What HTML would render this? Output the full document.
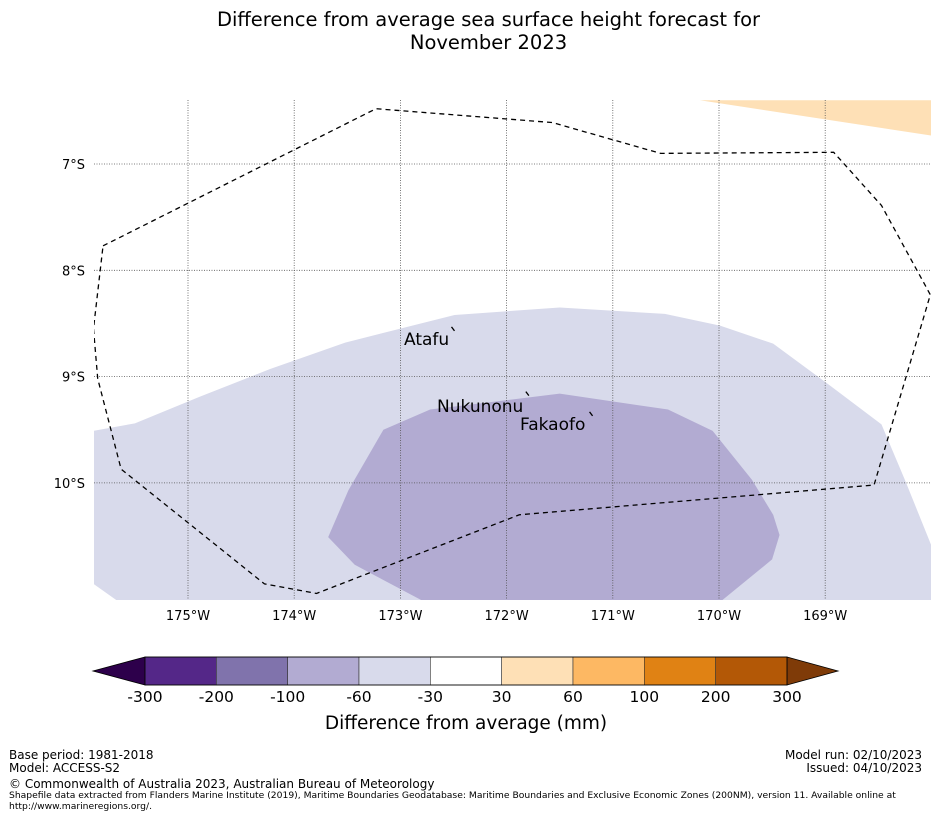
<!DOCTYPE html>
<html><head><meta charset="utf-8"><style>
body{margin:0;background:#fff;font-family:"DejaVu Sans","Liberation Sans",sans-serif;}
#c{position:relative;width:931px;height:816px;overflow:hidden;}
.t{position:absolute;white-space:nowrap;color:#000;}
</style></head><body>
<div id="c">
<div class="t" style="left:0;width:977px;top:8px;text-align:center;font-size:19.5px;line-height:23px">Difference from average sea surface height forecast for<br>November 2023</div>
<svg id="s" width="931" height="816" style="position:absolute;left:0;top:0"></svg>
<div class="t" style="left:9px;top:748px;font-size:12px">Base period: 1981-2018</div>
<div class="t" style="left:9px;top:761px;font-size:12px">Model: ACCESS-S2</div>
<div class="t" style="right:9px;top:748px;font-size:12px;text-align:right">Model run: 02/10/2023</div>
<div class="t" style="right:9px;top:761px;font-size:12px;text-align:right">Issued: 04/10/2023</div>
<div class="t" style="left:9px;top:777px;font-size:12px">© Commonwealth of Australia 2023, Australian Bureau of Meteorology</div>
<div class="t" style="left:9px;top:790px;font-size:9.2px;line-height:11px">Shapefile data extracted from Flanders Marine Institute (2019), Maritime Boundaries Geodatabase: Maritime Boundaries and Exclusive Economic Zones (200NM), version 11. Available online at<br>http://www.marineregions.org/.</div>
</div>
<script>
const lonTicks=[-175,-174,-173,-172,-171,-170,-169];
const latTicks=[-7,-8,-9,-10];
const bounds=[-60,-30,30,60,100,200,300];
const cbTicks=[-300,-200,-100,-60,-30,30,60,100,200,300];
const cbColors=['#542788','#8073ac','#b2abd2','#d8daeb','#ffffff','#fee0b6','#fdb863','#e08214','#b35806'];
const lightLon=[-175.89,-175.5,-174.89,-174.23,-173.52,-172.49,-171.5,-170.51,-169.99,-169.49,-168.96,-168.47,-168.25,-168.0,-168.0,-175.65,-175.89];
const lightLat=[-9.51,-9.44,-9.19,-8.93,-8.68,-8.42,-8.35,-8.41,-8.52,-8.69,-9.08,-9.45,-9.97,-10.59,-11.12,-11.12,-10.95];
const darkLon=[-173.16,-172.72,-171.5,-170.48,-170.06,-169.69,-169.49,-169.43,-169.5,-169.99,-172.77,-173.43,-173.68,-173.49];
const darkLat=[-9.5,-9.31,-9.16,-9.31,-9.51,-9.97,-10.3,-10.49,-10.72,-11.12,-11.12,-10.77,-10.51,-10.07];
const posLon=[-170.18,-167.82,-167.82];
const posLat=[-6.4,-6.4,-6.76];
const eezLon=[-175.8,-173.23,-171.57,-170.55,-168.92,-168.47,-168.01,-168.54,-171.88,-173.79,-174.28,-175.63,-175.85,-175.89,-175.8];
const eezLat=[-7.77,-6.48,-6.61,-6.9,-6.89,-7.39,-8.23,-10.02,-10.3,-11.04,-10.95,-9.87,-9.02,-8.55,-7.77];
const islands=[{name:'Atafu',lon:-172.5,lat:-8.56,lx:404,ly:345},{name:'Nukunonu',lon:-171.8,lat:-9.17,lx:437,ly:412},{name:'Fakaofo',lon:-171.2,lat:-9.36,lx:520,ly:430}];
const X0=94,X1=931,Y0=100,Y1=600;
const xS=lon=>188+(lon+175)*106.2;
const yS=lat=>164+(-lat-7)*106.3;
const cS=i=>145+i*(787-145)/9;
const s=document.getElementById('s');const NS='http://www.w3.org/2000/svg';
function mk(t,a,p){const e=document.createElementNS(NS,t);for(const k in a)e.setAttribute(k,a[k]);(p||s).appendChild(e);return e;}
const defs=mk('defs',{});const cp=mk('clipPath',{id:'cp'},defs);mk('rect',{x:X0,y:Y0,width:X1-X0,height:Y1-Y0},cp);
const g=mk('g',{'clip-path':'url(#cp)'});


function poly(lo,la,fill,name){const pts=lo.map((v,i)=>xS(v)+','+yS(la[i])).join(' ');const p=mk('polygon',{points:pts,fill:fill},g);

}
poly(lightLon,lightLat,cbColors[3],'contour-minus-30-to-60');
poly(darkLon,darkLat,cbColors[2],'contour-minus-60-to-100');
poly(posLon,posLat,cbColors[5],'contour-plus-30-to-60');
lonTicks.forEach(v=>{const l=mk('line',{x1:xS(v),x2:xS(v),y1:Y0,y2:Y1,stroke:'#555','stroke-width':0.8,'stroke-dasharray':'1,1.5'},g);


const t=mk('text',{x:xS(v),y:620,'text-anchor':'middle','font-size':13});t.textContent=Math.abs(v)+'°W';

});
latTicks.forEach(v=>{const l=mk('line',{x1:X0,x2:X1,y1:yS(v),y2:yS(v),stroke:'#555','stroke-width':0.8,'stroke-dasharray':'1,1.5'},g);


const t=mk('text',{x:85,y:yS(v)+5,'text-anchor':'end','font-size':13});t.textContent=Math.abs(v)+'°S';

});
const e=mk('polyline',{points:eezLon.map((v,i)=>xS(v)+','+yS(eezLat[i])).join(' '),fill:'none',stroke:'#000','stroke-width':1.3,'stroke-dasharray':'5,4'},g);


islands.forEach(o=>{const m=mk('line',{x1:xS(o.lon)-2,y1:yS(o.lat)-3,x2:xS(o.lon)+1,y2:yS(o.lat)+1,stroke:'#000','stroke-width':1.3});


const t=mk('text',{x:o.lx,y:o.ly,'font-size':17});t.textContent=o.name;

});
const cy0=657,cy1=685;
const lt=mk('polygon',{points:`${cS(0)},${cy0} 93,${(cy0+cy1)/2} ${cS(0)},${cy1}`,fill:'#2d004b',stroke:'#000','stroke-width':0.8});


const rt=mk('polygon',{points:`${cS(9)},${cy0} 838,${(cy0+cy1)/2} ${cS(9)},${cy1}`,fill:'#7f3b08',stroke:'#000','stroke-width':0.8});


cbColors.forEach((c,i)=>{const r=mk('rect',{x:cS(i),y:cy0,width:cS(i+1)-cS(i),height:cy1-cy0,fill:c,stroke:'#333','stroke-width':0.6});

});
const ob=mk('rect',{x:cS(0),y:cy0,width:cS(9)-cS(0),height:cy1-cy0,fill:'none',stroke:'#000','stroke-width':0.8});


cbTicks.forEach((v,i)=>{const t=mk('text',{x:cS(i),y:702,'text-anchor':'middle','font-size':15.5});t.textContent=v;

});
const ct=mk('text',{x:466,y:729,'text-anchor':'middle','font-size':18.5});ct.textContent='Difference from average (mm)';


</script>
</body></html>
